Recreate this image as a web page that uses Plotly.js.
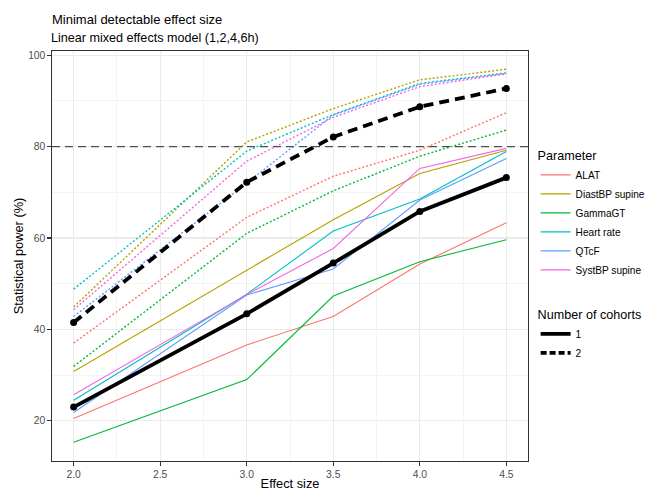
<!DOCTYPE html>
<html>
<head>
<meta charset="utf-8">
<script src="https://cdn.plot.ly/plotly-3.0.1.min.js"></script>
<style>html,body{margin:0;padding:0;background:#fff;}#chart{width:653px;height:491px;}</style>
</head>
<body>
<div id="chart"></div>
<script>
var effectSize = [2.0, 3.0, 3.5, 4.0, 4.5];
var parameters = ["ALAT", "DiastBP supine", "GammaGT", "Heart rate", "QTcF", "SystBP supine"];
var paramColors = ["#F8766D", "#B79F00", "#00BA38", "#00BFC4", "#619CFF", "#F564E3"];

// Statistical power (%) with 1 cohort
var power1_ALAT      = [20.5, 36.6, 42.8, 54.3, 63.3];
var power1_DiastBP   = [30.8, 53.0, 64.0, 74.1, 79.2];
var power1_GammaGT   = [15.3, 29.0, 47.3, 54.8, 59.6];
var power1_HeartRate = [24.5, 47.7, 61.5, 68.5, 78.9];
var power1_QTcF      = [21.8, 47.5, 53.2, 68.3, 77.4];
var power1_SystBP    = [25.7, 47.6, 57.7, 75.2, 79.6];
var power1_Mean      = [23.0, 43.4, 54.5, 65.8, 73.2];

// Statistical power (%) with 2 cohorts
var power2_ALAT      = [37.0, 64.5, 73.5, 79.2, 87.4];
var power2_DiastBP   = [44.9, 81.0, 88.3, 94.6, 96.9];
var power2_GammaGT   = [31.9, 61.0, 70.3, 77.9, 83.6];
var power2_HeartRate = [48.8, 79.0, 87.0, 93.8, 96.1];
var power2_QTcF      = [42.8, 72.0, 86.9, 93.6, 96.0];
var power2_SystBP    = [44.3, 76.8, 86.4, 93.1, 95.9];
var power2_Mean      = [41.5, 72.2, 82.1, 88.7, 92.7];

var threshold = 80;
var xTicks = [2.0, 2.5, 3.0, 3.5, 4.0, 4.5];
var xTickText = ["2.0", "2.5", "3.0", "3.5", "4.0", "4.5"];
var yTicks = [20, 40, 60, 80, 100];
var cohortLabels = ["1", "2"];

var p1 = [power1_ALAT, power1_DiastBP, power1_GammaGT, power1_HeartRate, power1_QTcF, power1_SystBP];
var p2 = [power2_ALAT, power2_DiastBP, power2_GammaGT, power2_HeartRate, power2_QTcF, power2_SystBP];

var traces = [];
for (var i = 0; i < parameters.length; i++) {
  traces.push({x: effectSize, y: p1[i], type: 'scatter', mode: 'lines', showlegend: false,
    line: {color: paramColors[i], width: 1.1}, hoverinfo: 'skip'});
  traces.push({x: effectSize, y: p2[i], type: 'scatter', mode: 'lines', showlegend: false,
    line: {color: paramColors[i], width: 1.4, dash: '2px,2px'}, hoverinfo: 'skip'});
}
traces.push({x: effectSize, y: power1_Mean, type: 'scatter', mode: 'lines+markers', showlegend: false,
  line: {color: '#000', width: 3.8}, marker: {color: '#000', size: 7}});
traces.push({x: effectSize, y: power2_Mean, type: 'scatter', mode: 'lines+markers', showlegend: false,
  line: {color: '#000', width: 3.8, dash: '10px,6px'}, marker: {color: '#000', size: 7}});

// legend entries
for (var j = 0; j < parameters.length; j++) {
  traces.push({x: [null], y: [null], type: 'scatter', mode: 'lines', name: parameters[j],
    legend: 'legend', line: {color: paramColors[j], width: 1.1}});
}
traces.push({x: [null], y: [null], type: 'scatter', mode: 'lines', name: cohortLabels[0],
  legend: 'legend2', line: {color: '#000', width: 3.8}});
traces.push({x: [null], y: [null], type: 'scatter', mode: 'lines', name: cohortLabels[1],
  legend: 'legend2', line: {color: '#000', width: 3.8, dash: '6px,3px'}});

var FONT = 'Liberation Sans, Arial, sans-serif';
var axisCommon = {
  showline: true, mirror: true, linecolor: '#333333', linewidth: 1.1,
  showgrid: true, gridcolor: '#EBEBEB', gridwidth: 1.1,
  zeroline: false, ticks: 'outside', ticklen: 3.5, tickcolor: '#333333', tickwidth: 1.1,
  tickfont: {family: FONT, size: 10.3, color: '#4D4D4D'}
};

var layout = {
  width: 653, height: 491,
  margin: {l: 52, r: 125, t: 51, b: 30, pad: 0, autoexpand: false},
  paper_bgcolor: '#fff', plot_bgcolor: '#fff',
  font: {family: FONT, color: '#000'},
  title: {text: 'Minimal detectable effect size', font: {size: 13, color: '#000'},
    xref: 'paper', x: 0, xanchor: 'left', yref: 'container', y: 1 - 19/491, yanchor: 'middle'},
  xaxis: Object.assign({}, axisCommon, {
    range: [1.875, 4.625], tickvals: xTicks, ticktext: xTickText, automargin: false,
    minor: {dtick: 0.25, showgrid: true, gridcolor: '#EBEBEB', gridwidth: 0.55, ticks: ''},
    title: {text: 'Effect size', font: {size: 12.8, color: '#000'}, standoff: 6}
  }),
  yaxis: Object.assign({}, axisCommon, {
    range: [11.2, 100.9], tickvals: yTicks, automargin: false,
    minor: {dtick: 10, showgrid: true, gridcolor: '#EBEBEB', gridwidth: 0.55, ticks: ''},
    title: {text: 'Statistical power (%)', font: {size: 12.8, color: '#000'}, standoff: 1}
  }),
  shapes: [{type: 'line', xref: 'paper', x0: 0, x1: 1, yref: 'y', y0: threshold, y1: threshold,
    line: {color: '#4D4D4D', width: 1.3, dash: '8px,5px'}, layer: 'above'}],
  annotations: [{text: 'Linear mixed effects model (1,2,4,6h)', xref: 'paper', x: 0, xanchor: 'left',
    xshift: -3, yref: 'paper', y: (461 - 38) / 410, yanchor: 'middle', showarrow: false,
    font: {size: 12.6, color: '#000'}}],
  legend: {title: {text: 'Parameter', font: {size: 12.6, color: '#000'}},
    x: 1.016, xanchor: 'left', y: (461 - 144) / 410, yanchor: 'top',
    font: {size: 10.1, color: '#000'}, bgcolor: 'rgba(0,0,0,0)', tracegroupgap: 0},
  legend2: {title: {text: 'Number of cohorts', font: {size: 12.6, color: '#000'}},
    x: 1.016, xanchor: 'left', y: (461 - 303) / 410, yanchor: 'top',
    font: {size: 10.1, color: '#000'}, bgcolor: 'rgba(0,0,0,0)', tracegroupgap: 0}
};

Plotly.newPlot('chart', traces, layout, {displayModeBar: false, staticPlot: true});
</script>
</body>
</html>
